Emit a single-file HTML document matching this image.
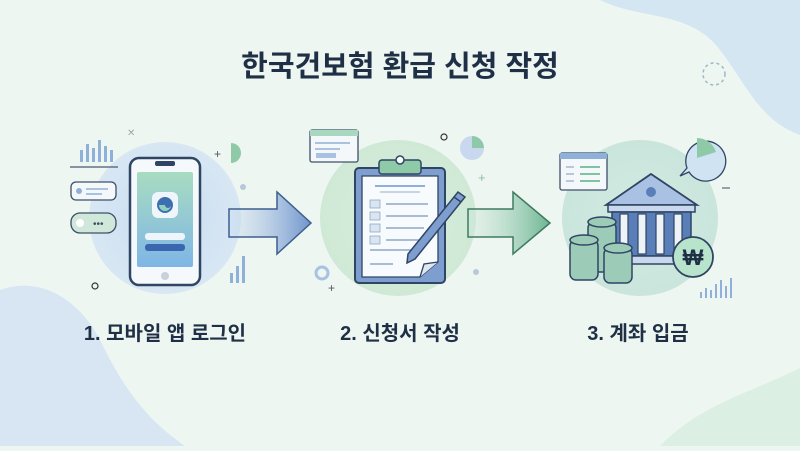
<!DOCTYPE html>
<html><head><meta charset="utf-8"><style>
html,body{margin:0;padding:0;}
body{width:800px;height:446px;overflow:hidden;background:#eef6f1;font-family:"Liberation Sans","Noto Sans CJK KR",sans-serif;}
</style></head><body>
<svg width="800" height="446" viewBox="0 0 800 446" xmlns="http://www.w3.org/2000/svg">
<defs>
<linearGradient id="a1" x1="0" x2="1"><stop offset="0" stop-color="#c9dcf0" stop-opacity="0.3"/><stop offset="1" stop-color="#6f93cc"/></linearGradient>
<linearGradient id="a2" x1="0" x2="1"><stop offset="0" stop-color="#cfe8dc" stop-opacity="0.3"/><stop offset="1" stop-color="#6db592"/></linearGradient>
<linearGradient id="scr" x1="0" y1="0" x2="0" y2="1"><stop offset="0" stop-color="#a8dcc0"/><stop offset="1" stop-color="#7fb6e6"/></linearGradient>
<radialGradient id="c1"><stop offset="0" stop-color="#c8dcf2"/><stop offset="1" stop-color="#d8e7f3"/></radialGradient>
<radialGradient id="c2"><stop offset="0" stop-color="#d6efdc"/><stop offset="1" stop-color="#cfe9d6"/></radialGradient>
<radialGradient id="c3"><stop offset="0" stop-color="#d3ebe3"/><stop offset="1" stop-color="#c9e5dc"/></radialGradient>
</defs>
<path d="M600 0 C640 20 690 10 720 50 C750 90 760 120 800 135 L800 0 Z" fill="#d4e6f2"/>
<path d="M0 290 C40 275 80 300 100 340 C120 380 140 415 185 446 L0 446 Z" fill="#d8e6f3"/>
<path d="M660 446 C700 405 745 395 800 368 L800 446 Z" fill="#dbefe2"/>
<text x="400" y="76" text-anchor="middle" font-size="29" font-weight="bold" fill="#1f2f45">한국건보험 환급 신청 작정</text>
<circle cx="714" cy="74" r="11" fill="none" stroke="#9fb8c8" stroke-width="1.5" stroke-dasharray="3 3"/>
<circle cx="165" cy="218" r="76" fill="url(#c1)"/>
<circle cx="398" cy="218" r="78" fill="url(#c2)"/>
<circle cx="640" cy="218" r="78" fill="url(#c3)"/>
<path d="M229 209 H277 V192 L311 223 L277 254 V237 H229 Z" fill="url(#a1)" stroke="#3f5f8f" stroke-width="1.5"/>
<path d="M468 209 H513 V192 L550 223 L513 254 V237 H468 Z" fill="url(#a2)" stroke="#3f7a62" stroke-width="1.5"/>
<g fill="#8fb0d8"><rect x="80" y="150" width="3" height="12"/><rect x="86" y="144" width="3" height="18"/><rect x="92" y="148" width="3" height="14"/><rect x="98" y="140" width="3" height="22"/><rect x="104" y="146" width="3" height="16"/><rect x="110" y="150" width="3" height="12"/></g>
<line x1="70" y1="167" x2="118" y2="167" stroke="#4a5a70" stroke-width="1.2"/>
<rect x="71" y="182" width="45" height="18" rx="5" fill="#f4f8fb" stroke="#3d5068" stroke-width="1.3"/>
<circle cx="79" cy="191" r="3" fill="#8fb0d8"/><line x1="86" y1="189" x2="108" y2="189" stroke="#8fb0d8" stroke-width="1.5"/><line x1="86" y1="194" x2="102" y2="194" stroke="#8fb0d8" stroke-width="1.5"/>
<rect x="71" y="213" width="45" height="20" rx="9" fill="#cfe8da" stroke="#3d5068" stroke-width="1.3"/>
<circle cx="80" cy="223" r="4" fill="#ffffff"/><text x="93" y="227" font-size="10" fill="#3d5068">•••</text>
<circle cx="95" cy="286" r="3" fill="none" stroke="#333" stroke-width="1.2"/>
<text x="127" y="136" font-size="10" fill="#9aa">✕</text>
<path d="M231 143 A10 10 0 0 1 231 163 Z" fill="#8fcaa8"/>
<text x="214" y="158" font-size="12" fill="#556">+</text>
<circle cx="243" cy="187" r="3" fill="#b8c8d8"/>
<g fill="#8fb0d8"><rect x="230" y="273" width="3" height="10"/><rect x="236" y="266" width="3" height="17"/><rect x="242" y="256" width="3" height="27"/></g>
<rect x="130" y="158" width="70" height="127" rx="9" fill="#f6f9fc" stroke="#2f4563" stroke-width="2.5"/>
<rect x="137" y="172" width="56" height="95" rx="2" fill="url(#scr)"/>
<rect x="155" y="161" width="20" height="5" rx="2" fill="#2f4563"/>
<rect x="152" y="192" width="26" height="26" rx="6" fill="#eef5fb"/>
<circle cx="165" cy="205" r="8" fill="#3d6fb0"/><path d="M159 205 a6 6 0 0 0 12 0 a3 3 0 0 1 -6 0" fill="#8fd0c0"/>
<rect x="145" y="233" width="40" height="7" rx="3" fill="#eef5fb"/>
<rect x="145" y="244" width="40" height="7" rx="3" fill="#3a66b0"/>
<circle cx="165" cy="276" r="4" fill="#c8d0dc"/>
<rect x="310" y="130" width="48" height="32" rx="2" fill="#f4f8fb" stroke="#3d5068" stroke-width="1.3"/>
<rect x="310" y="130" width="48" height="6" fill="#a8d8bf"/>
<line x1="315" y1="143" x2="350" y2="143" stroke="#8fb0d8" stroke-width="1.5"/><line x1="315" y1="149" x2="340" y2="149" stroke="#8fb0d8" stroke-width="1.5"/><rect x="316" y="153" width="20" height="5" fill="#a9c2e3"/>
<circle cx="444" cy="137" r="3" fill="none" stroke="#333" stroke-width="1.2"/>
<circle cx="472" cy="148" r="12" fill="#c9d8ee"/><path d="M472 148 V136 A12 12 0 0 1 484 148 Z" fill="#8fcaa8"/>
<text x="478" y="182" font-size="13" fill="#8fbfa8">+</text>
<circle cx="322" cy="273" r="6" fill="none" stroke="#a9c2e3" stroke-width="3"/>
<text x="328" y="292" font-size="12" fill="#556">+</text>
<circle cx="476" cy="272" r="3" fill="#b8c8d8"/>
<rect x="355" y="168" width="90" height="115" rx="4" fill="#7f9ed0" stroke="#2f4563" stroke-width="2"/>
<path d="M362 176 H438 V262 L420 277 H362 Z" fill="#f8fbfd" stroke="#2f4563" stroke-width="1.3"/>
<path d="M420 277 L424 264 L438 262" fill="#dfe7ef" stroke="#2f4563" stroke-width="1.3"/>
<rect x="379" y="160" width="42" height="14" rx="3" fill="#8fcaa8" stroke="#2f4563" stroke-width="1.5"/>
<circle cx="400" cy="160" r="4" fill="#fff" stroke="#2f4563" stroke-width="1.5"/>
<line x1="375" y1="186" x2="425" y2="186" stroke="#8fb0d8" stroke-width="2"/><line x1="380" y1="192" x2="420" y2="192" stroke="#b8c8d8" stroke-width="1.5"/>
<g fill="#dbe5f0" stroke="#8fa8c8" stroke-width="0.8"><rect x="370" y="200" width="10" height="8"/><rect x="370" y="212" width="10" height="8"/><rect x="370" y="224" width="10" height="8"/><rect x="370" y="236" width="10" height="8"/></g>
<g stroke="#8fa8c8" stroke-width="1.5"><line x1="386" y1="204" x2="428" y2="204"/><line x1="386" y1="216" x2="428" y2="216"/><line x1="386" y1="228" x2="424" y2="228"/><line x1="386" y1="240" x2="420" y2="240"/><line x1="370" y1="250" x2="415" y2="250"/><line x1="370" y1="264" x2="393" y2="264"/></g>
<path d="M408 254 L458 192 L465 197 L415 259 L407 263 Z" fill="#7f9ed0" stroke="#2f4563" stroke-width="1.5"/>
<path d="M454 197 L461 202" stroke="#2f4563" stroke-width="1.5"/>
<rect x="560" y="153" width="47" height="37" rx="2" fill="#f4f8fb" stroke="#3d5068" stroke-width="1.3"/>
<rect x="560" y="153" width="47" height="6" fill="#8fb0d8"/>
<g stroke-width="2"><line x1="566" y1="167" x2="574" y2="167" stroke="#b8c8d8"/><line x1="580" y1="167" x2="600" y2="167" stroke="#7fc49e"/><line x1="566" y1="174" x2="574" y2="174" stroke="#b8c8d8"/><line x1="580" y1="174" x2="600" y2="174" stroke="#7fc49e"/><line x1="566" y1="181" x2="574" y2="181" stroke="#b8c8d8"/><line x1="580" y1="181" x2="600" y2="181" stroke="#7fc49e"/></g>
<path d="M689 172 L680 176 L687 168 A20 20 0 1 1 689 172 Z" fill="#d0e3f3" stroke="#2f4563" stroke-width="1.3"/>
<path d="M697 158 V138 A20 20 0 0 1 716 152 Z" fill="#8fcaa8"/>
<line x1="722" y1="188" x2="730" y2="188" stroke="#667" stroke-width="1.2"/>
<g fill="#8fb0d8"><rect x="700" y="292" width="2" height="6"/><rect x="705" y="288" width="2" height="10"/><rect x="710" y="290" width="2" height="8"/><rect x="715" y="284" width="2" height="14"/><rect x="720" y="280" width="2" height="18"/><rect x="725" y="286" width="2" height="12"/><rect x="730" y="278" width="2" height="20"/></g>
<path d="M606 205 L651 174 L697 205 Z" fill="#a9c2e3" stroke="#2f4563" stroke-width="1.8"/>
<circle cx="651" cy="192" r="5" fill="#5a7fb8"/>
<rect x="608" y="205" width="87" height="7" fill="#c9d8ee" stroke="#2f4563" stroke-width="1.5"/>
<rect x="612" y="212" width="79" height="44" fill="#5a7fb8" stroke="#2f4563" stroke-width="1.5"/>
<g fill="#eef3f8" stroke="#2f4563" stroke-width="1.2"><rect x="620" y="214" width="8" height="40"/><rect x="638" y="214" width="8" height="40"/><rect x="656" y="214" width="8" height="40"/><rect x="674" y="214" width="8" height="40"/></g>
<rect x="606" y="256" width="90" height="8" fill="#c9d8ee" stroke="#2f4563" stroke-width="1.5"/>
<g fill="#9ccbb8" stroke="#2f4563" stroke-width="1.5">
<rect x="588" y="222" width="28" height="50" rx="6"/>
<ellipse cx="602" cy="222" rx="14" ry="5"/>
<rect x="570" y="240" width="28" height="40" rx="6"/>
<ellipse cx="584" cy="240" rx="14" ry="5"/>
<rect x="604" y="248" width="28" height="35" rx="6"/>
<ellipse cx="618" cy="248" rx="14" ry="5"/>
</g>
<circle cx="693" cy="257" r="20" fill="#b9e4cc" stroke="#2f4563" stroke-width="1.8"/>
<text x="693" y="265" text-anchor="middle" font-size="22" font-weight="bold" fill="#1f2f45">₩</text>
<text x="165" y="340" text-anchor="middle" font-size="20" font-weight="bold" fill="#1f2f45">1. 모바일 앱 로그인</text>
<text x="400" y="340" text-anchor="middle" font-size="20" font-weight="bold" fill="#1f2f45">2. 신청서 작성</text>
<text x="638" y="340" text-anchor="middle" font-size="20" font-weight="bold" fill="#1f2f45">3. 계좌 입금</text>
</svg>
</body></html>
